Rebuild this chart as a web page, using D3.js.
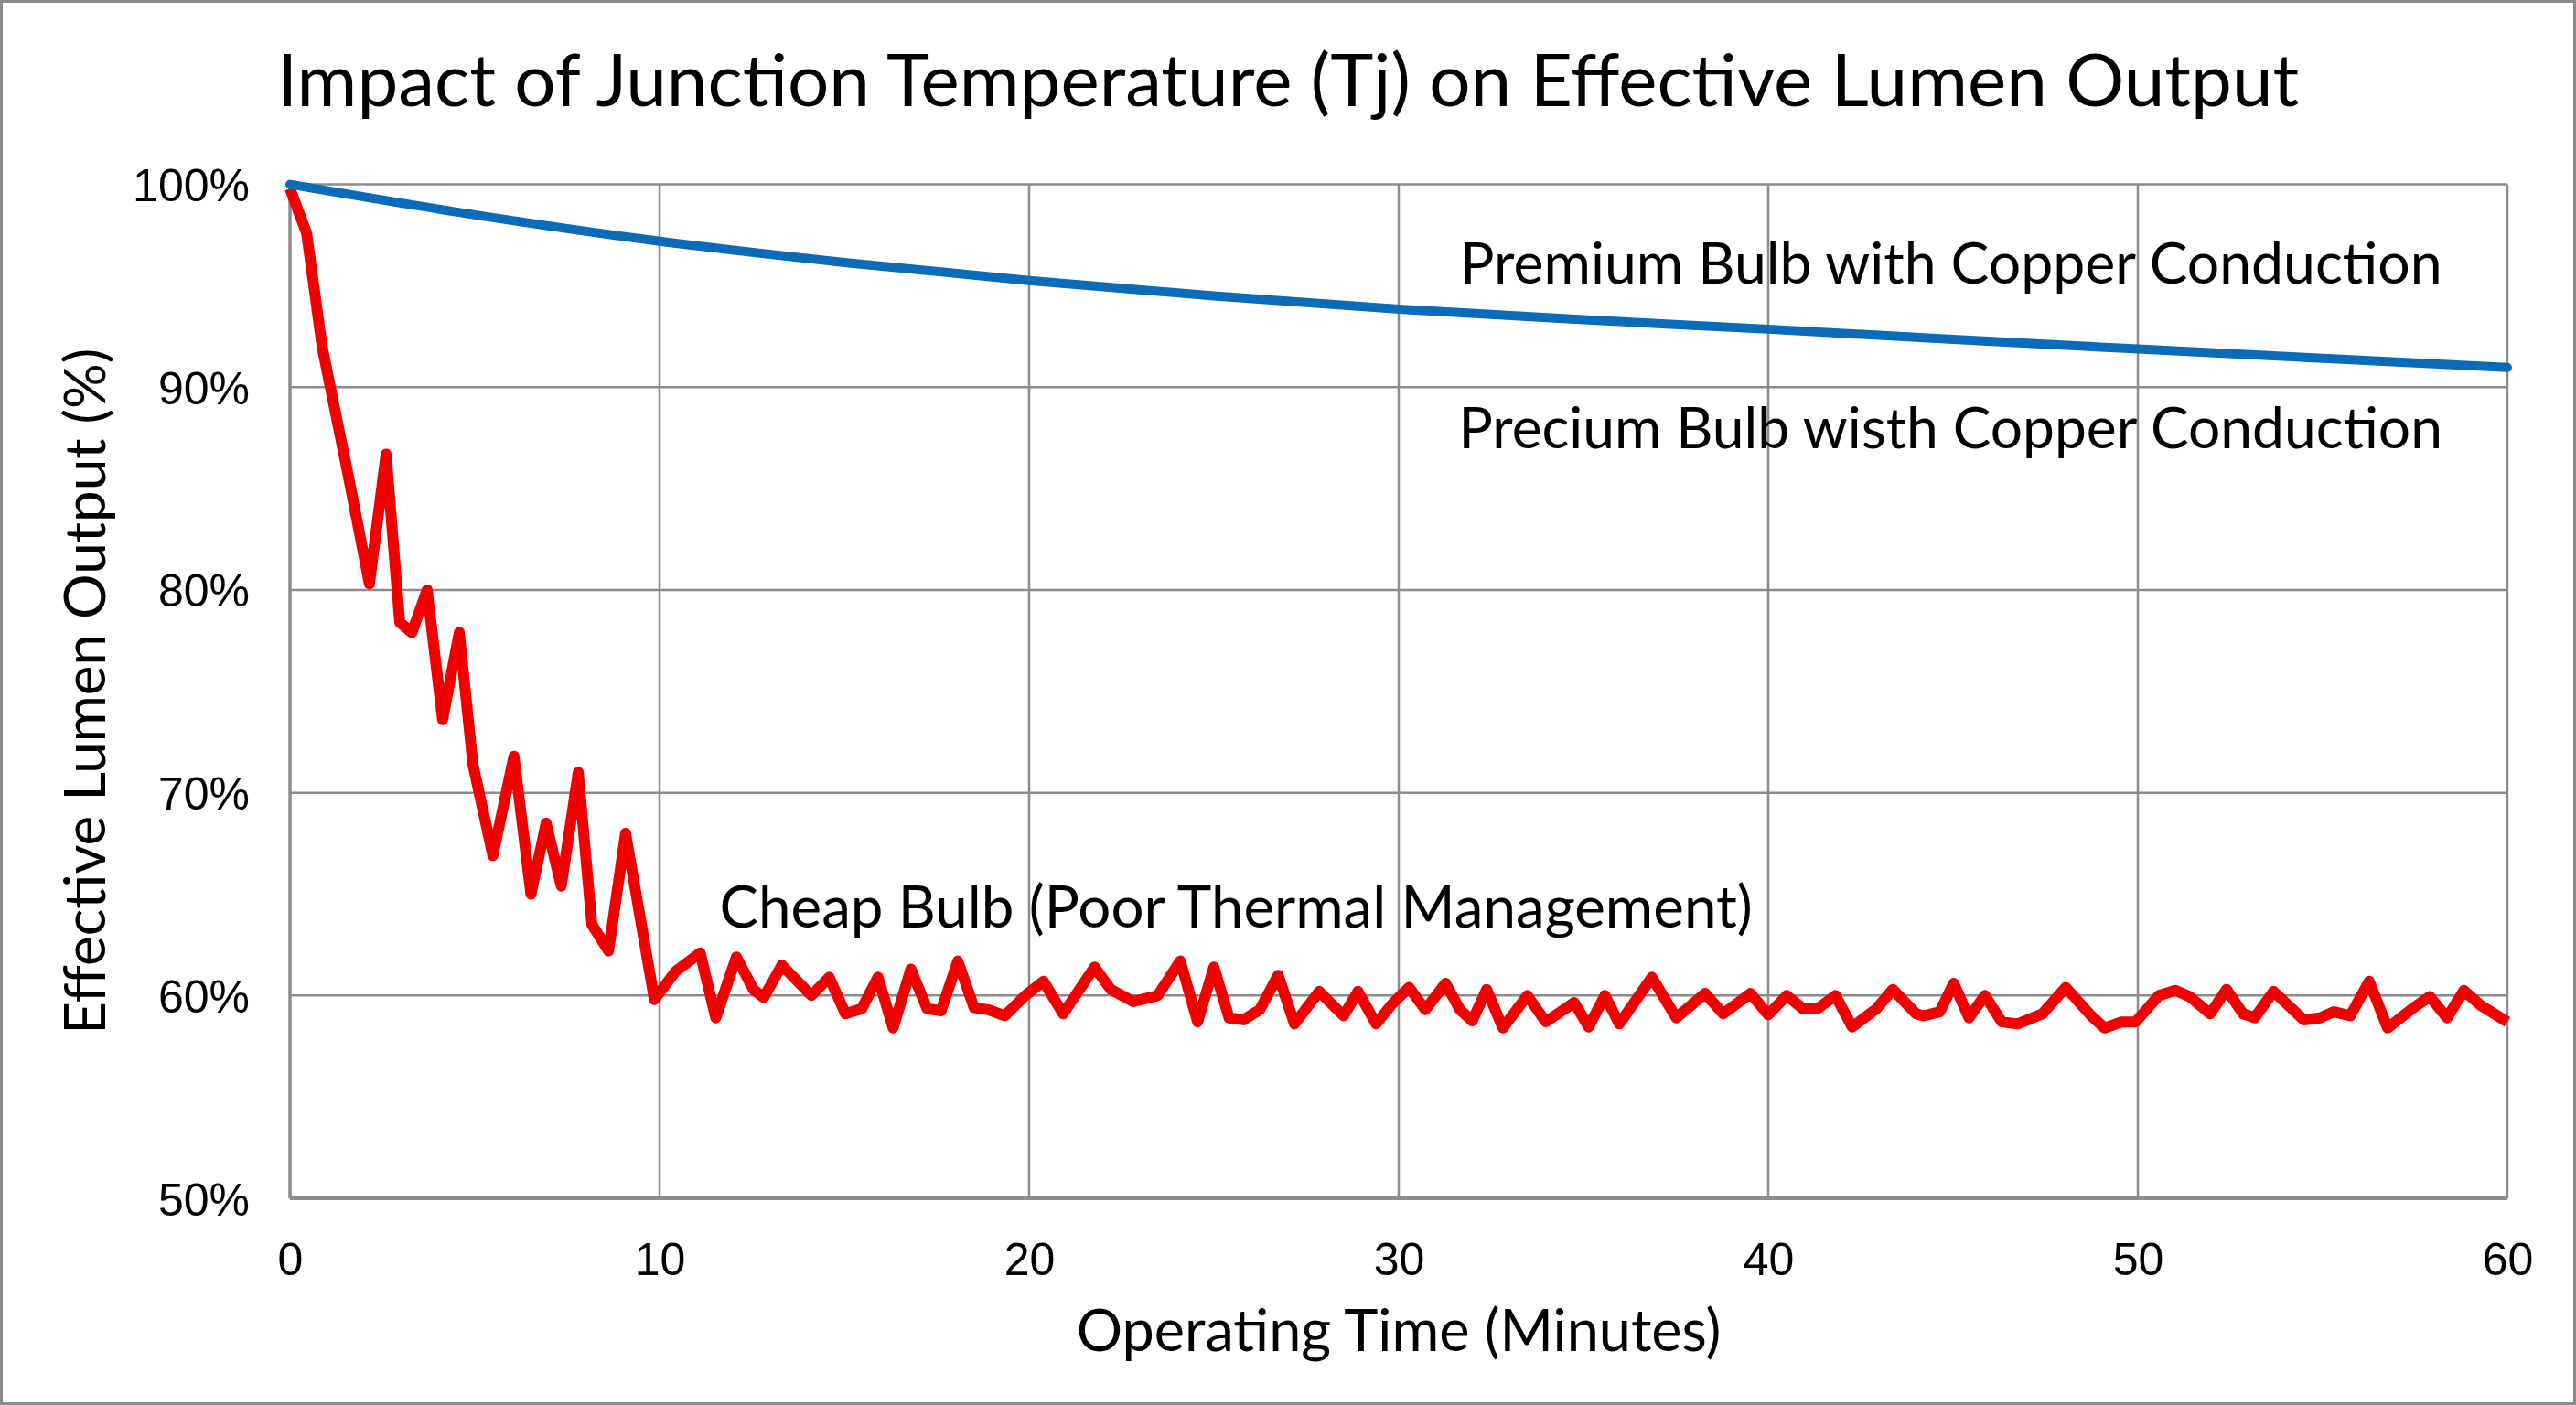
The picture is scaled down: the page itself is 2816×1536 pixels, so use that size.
<!DOCTYPE html>
<meta charset="utf-8">
<script src="https://d3js.org/d3.v7.min.js"></script>
<style>
  body { margin: 0; background: #fff; }
  .lbl { font-family: Lato, "Open Sans", sans-serif; fill: #000; }
  .tick text { font-family: "Liberation Sans", Arial, sans-serif; fill: #000; }
</style>
<body>
<div id="chart"></div>
<script>

// ---- data ----
var chartTitle = "Impact of Junction Temperature (Tj) on Effective Lumen Output";
var xTitle = "Operating Time (Minutes)";
var yTitle = "Effective Lumen Output (%)";

var xTicks = [0, 10, 20, 30, 40, 50, 60];
var yTicks = [50, 60, 70, 80, 90, 100];

// premium bulb (copper conduction) - smooth decay
var premiumTime  = [0, 5, 10, 15, 20, 25, 30, 35, 40, 45, 50, 55, 60];
var premiumLumen = [100, 98.5, 97.2, 96.15, 95.26, 94.5, 93.85, 93.33, 92.86, 92.36, 91.88, 91.42, 90.97];

// cheap bulb (poor thermal management) - noisy drop then plateau
var cheapTime = [0, 0.45, 0.87, 1.57, 2.15, 2.6, 2.97, 3.3, 3.71, 4.13, 4.58, 4.95, 5.49, 6.06, 6.52, 6.93, 7.34, 7.8, 8.17, 8.62, 9.08, 9.86,
  10.44, 11.1, 11.52, 12.08, 12.54, 12.82, 13.31, 14.11, 14.59, 15.03, 15.47, 15.91, 16.32, 16.8, 17.24, 17.62, 18.07, 18.51, 18.9, 19.34, 19.9,
  20.39, 20.92, 21.77, 22.21, 22.82, 23.48, 24.09, 24.56, 25.0, 25.41, 25.8, 26.24, 26.74, 27.18, 27.85, 28.51, 28.9, 29.39, 29.83,
  30.28, 30.72, 31.27, 31.66, 31.99, 32.38, 32.82, 33.48, 33.98, 34.75, 35.14, 35.58, 35.97, 36.85, 37.51, 38.29, 38.78, 39.52,
  40.0, 40.5, 40.94, 41.33, 41.82, 42.27, 42.93, 43.37, 44.0, 44.2, 44.64, 45.02, 45.43, 45.86, 46.32, 46.75, 47.42, 48.05, 48.74, 49.1, 49.56,
  49.94, 50.57, 51.02, 51.4, 51.96, 52.4, 52.85, 53.16, 53.67, 54.49, 54.93, 55.31, 55.75, 56.26, 56.76, 57.46, 57.9, 58.37, 58.82, 59.29, 60];
var cheapLumen = [99.8, 97.6, 92.0, 85.7, 80.3, 86.7, 78.4, 77.9, 80.0, 73.6, 77.9, 71.4, 66.9, 71.8, 65.0, 68.5, 65.4, 71.0, 63.5, 62.2, 68.0, 59.8,
  61.2, 62.1, 58.9, 61.9, 60.3, 59.9, 61.5, 60.0, 60.9, 59.1, 59.35, 60.9, 58.4, 61.3, 59.35, 59.25, 61.7, 59.4, 59.3, 59.0, 60.0,
  60.7, 59.1, 61.4, 60.3, 59.7, 60.0, 61.7, 58.7, 61.4, 58.9, 58.8, 59.3, 61.0, 58.6, 60.2, 59.0, 60.2, 58.6, 59.6,
  60.4, 59.3, 60.6, 59.3, 58.75, 60.3, 58.4, 60.0, 58.7, 59.65, 58.45, 60.0, 58.6, 60.9, 58.9, 60.1, 59.1, 60.1,
  59.05, 60.0, 59.35, 59.35, 60.0, 58.45, 59.35, 60.3, 59.1, 59.0, 59.2, 60.6, 58.9, 60.0, 58.7, 58.6, 59.1, 60.4, 59.0, 58.4, 58.7,
  58.7, 60.0, 60.25, 59.95, 59.1, 60.3, 59.1, 58.9, 60.2, 58.8, 58.9, 59.2, 59.0, 60.7, 58.4, 59.4, 59.95, 58.9, 60.25, 59.5, 58.7];

// series labels: text, x (minutes), y (% baseline), font size
var labelText = ["Premium Bulb with Copper Conduction", "Precium Bulb wisth Copper Conduction", "Cheap Bulb (Poor Thermal Management)"];
var labelX = [31.66, 31.62, 11.62];
var labelY = [95.1, 87.0, 63.36];
var labelSize = [62.5, 62.3, 63.7];

// ---- layout ----
var W = 2816, H = 1536;
var plotL = 317, plotR = 2741, plotT = 201.6, plotB = 1310;

var svg = d3.select("#chart")
  .append("svg")
    .attr("width", W)
    .attr("height", H);

// outer frame
svg.append("rect")
  .attr("x", 1.5).attr("y", 1.5)
  .attr("width", W - 3).attr("height", H - 3)
  .attr("fill", "#fff")
  .attr("stroke", "#8a8a8a")
  .attr("stroke-width", 3);

var x = d3.scaleLinear().domain([0, 60]).range([plotL, plotR]);
var y = d3.scaleLinear().domain([50, 100]).range([plotB, plotT]);

// gridlines
svg.append("g")
  .selectAll("line")
  .data(yTicks)
  .enter().append("line")
    .attr("x1", plotL).attr("x2", plotR)
    .attr("y1", function(d) { return y(d); })
    .attr("y2", function(d) { return y(d); })
    .attr("stroke", "#8c8c8c")
    .attr("stroke-width", function(d) { return d == 50 ? 4 : 2.5; });

svg.append("g")
  .selectAll("line")
  .data(xTicks)
  .enter().append("line")
    .attr("y1", plotT).attr("y2", plotB)
    .attr("x1", function(d) { return x(d); })
    .attr("x2", function(d) { return x(d); })
    .attr("stroke", "#8c8c8c")
    .attr("stroke-width", function(d) { return d == 0 ? 3.5 : 2.5; });

// axes (tick labels only; the frame comes from the gridlines)
var xAxis = d3.axisBottom(x).tickValues(xTicks).tickSize(0).tickPadding(0);
var yAxis = d3.axisLeft(y).tickValues(yTicks).tickSize(0).tickPadding(0)
  .tickFormat(function(d) { return d + "%"; });

var gx = svg.append("g")
  .attr("transform", "translate(0," + plotB + ")")
  .call(xAxis);
gx.select(".domain").remove();
gx.selectAll(".tick text")
  .attr("y", 84)
  .attr("dy", 0)
  .style("font-size", "50px");

var gy = svg.append("g")
  .attr("transform", "translate(" + (plotL - 44) + ",0)")
  .call(yAxis);
gy.select(".domain").remove();
gy.selectAll(".tick text")
  .attr("x", 0)
  .attr("dy", "0.36em")
  .style("font-size", "50px");

// lines
var line = d3.line()
  .x(function(d) { return x(d[0]); })
  .y(function(d) { return y(d[1]); });

var cheap = cheapTime.map(function(t, i) { return [t, cheapLumen[i]]; });
var premium = premiumTime.map(function(t, i) { return [t, premiumLumen[i]]; });

svg.append("path")
  .datum(cheap)
  .attr("d", line)
  .attr("fill", "none")
  .attr("stroke", "#f20000")
  .attr("stroke-width", 12)
  .attr("stroke-linejoin", "round");

svg.append("path")
  .datum(premium)
  .attr("d", line.curve(d3.curveMonotoneX))
  .attr("fill", "none")
  .attr("stroke", "#0a6cb8")
  .attr("stroke-width", 10)
  .attr("stroke-linecap", "round");

// series labels
svg.append("g")
  .selectAll("text")
  .data(labelText)
  .enter().append("text")
    .attr("class", "lbl")
    .attr("x", function(d, i) { return x(labelX[i]); })
    .attr("y", function(d, i) { return y(labelY[i]); })
    .style("font-size", function(d, i) { return labelSize[i] + "px"; })
    .text(function(d) { return d; });

// titles
svg.append("text")
  .attr("class", "lbl")
  .attr("x", W / 2)
  .attr("y", 116)
  .attr("text-anchor", "middle")
  .style("font-size", "80px")
  .text(chartTitle);

svg.append("text")
  .attr("class", "lbl")
  .attr("x", (plotL + plotR) / 2)
  .attr("y", 1477)
  .attr("text-anchor", "middle")
  .style("font-size", "63px")
  .text(xTitle);

svg.append("text")
  .attr("class", "lbl")
  .attr("transform", "translate(115," + ((plotT + plotB) / 2) + ") rotate(-90)")
  .attr("text-anchor", "middle")
  .style("font-size", "62px")
  .text(yTitle);

</script>
</body>
